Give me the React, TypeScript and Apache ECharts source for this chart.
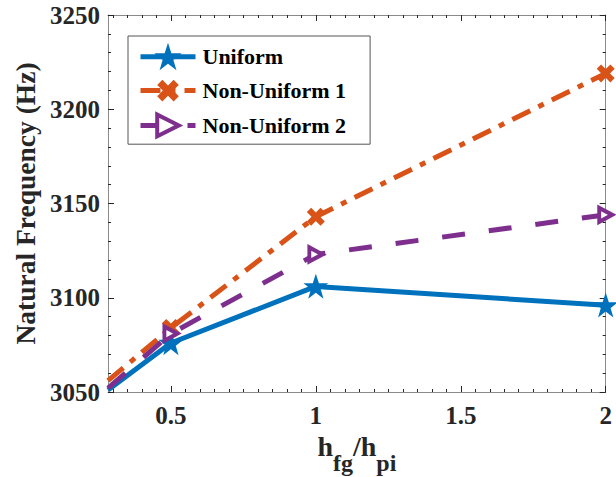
import React, { useEffect, useRef } from 'react';
import * as echarts from 'echarts';

const X_MIN = 0.283;
const X_MAX = 2;
const Y_MIN = 3050;
const Y_MAX = 3250;
const Y_STEP = 50;

const xValues = [X_MIN, 0.5, 1, 2];
const uniform = [3051, 3076, 3106, 3096];
const nonUniform1 = [3056, 3084, 3143, 3219];
const nonUniform2 = [3052, 3081, 3123, 3144];
const seriesNames = ['Uniform', 'Non-Uniform 1', 'Non-Uniform 2'];
const xTickLabels = [0.5, 1, 1.5, 2];

const xMinorTicks: number[] = [];
for (let i = 6; i <= 40; i++) xMinorTicks.push(Math.round(i * 5) / 100);

const FONT = '"Liberation Serif", "Times New Roman", serif';
const BLUE = '#0072BD';
const ORANGE = '#D95319';
const PURPLE = '#7E2F8E';
const AXIS_LINE = '#8a8a8a';
const TICK = '#262626';

const STAR = 'path://M50,0 L61.8,35.1 L98.1,35.1 L68.8,56.7 L79.4,90.9 L50,69.1 L20.6,90.9 L31.2,56.7 L1.9,35.1 L38.2,35.1 Z';
const XMARK = 'path://M0,24 L24,0 L50,26 L76,0 L100,24 L74,50 L100,76 L76,100 L50,74 L24,100 L0,76 L26,50 Z';
const TRI = 'path://M0,0 L100,50 L0,100 Z';

function buildData(values: number[]) {
  return values.map((v, i) =>
    i === 0 ? { value: [xValues[i], v], symbol: 'none' } : { value: [xValues[i], v] }
  );
}

export default function App() {
  const ref = useRef<HTMLDivElement>(null);
  useEffect(() => {
    if (!ref.current) return;
    const chart = echarts.init(ref.current, undefined, { renderer: 'svg' });
    const xCommon = {
      type: 'value',
      min: X_MIN,
      max: X_MAX,
      splitLine: { show: false },
    };
    const yCommon = {
      type: 'value',
      min: Y_MIN,
      max: Y_MAX,
      interval: Y_STEP,
      splitLine: { show: false },
    };
    chart.setOption({
      animation: false,
      backgroundColor: '#ffffff',
      grid: {
        left: 108,
        right: 10.3,
        top: 15,
        bottom: 85,
        containLabel: false,
        outerBoundsMode: 'none',
      },
      legend: {
        orient: 'vertical',
        left: 128,
        top: 36,
        data: seriesNames,
        itemWidth: 55,
        itemHeight: 27,
        itemGap: 11,
        padding: [9, 24, 6, 10],
        backgroundColor: '#ffffff',
        borderColor: '#555555',
        borderWidth: 1,
        borderRadius: 0,
        lineStyle: { width: 5 },
        itemStyle: { borderWidth: 'inherit' },
        textStyle: {
          fontFamily: FONT,
          fontWeight: 'bold',
          fontSize: 22,
          color: '#000000',
          padding: [0, 0, 0, 2],
        },
      },
      xAxis: [
        {
          ...xCommon,
          position: 'bottom',
          axisLine: { show: true, onZero: false, lineStyle: { color: AXIS_LINE, width: 1 } },
          axisTick: { show: true, inside: true, length: 6, customValues: xTickLabels, lineStyle: { color: TICK } },
          axisLabel: {
            show: true,
            customValues: xTickLabels,
            margin: 11,
            fontFamily: FONT,
            fontWeight: 'bold',
            fontSize: 25,
            color: TICK,
          },
          name: '{m|h}{s|fg}{m|/h}{s|pi}',
          nameLocation: 'middle',
          nameGap: 26,
          nameTextStyle: {
            rich: {
              m: { fontFamily: FONT, fontWeight: 'bold', fontSize: 28, color: TICK },
              s: { fontFamily: FONT, fontWeight: 'bold', fontSize: 24, padding: [32, 0, 0, 0], color: TICK },
            },
          },
        },
        {
          ...xCommon,
          position: 'bottom',
          axisLine: { show: false, onZero: false },
          axisTick: { show: true, inside: true, length: 3, customValues: xMinorTicks, lineStyle: { color: TICK } },
          axisLabel: { show: false },
        },
        {
          ...xCommon,
          position: 'top',
          axisLine: { show: true, onZero: false, lineStyle: { color: AXIS_LINE, width: 1 } },
          axisTick: { show: true, inside: true, length: 6, customValues: xTickLabels, lineStyle: { color: TICK } },
          axisLabel: { show: false },
        },
        {
          ...xCommon,
          position: 'top',
          axisLine: { show: false, onZero: false },
          axisTick: { show: true, inside: true, length: 3, customValues: xMinorTicks, lineStyle: { color: TICK } },
          axisLabel: { show: false },
        },
      ],
      yAxis: [
        {
          ...yCommon,
          position: 'left',
          axisLine: { show: true, onZero: false, lineStyle: { color: AXIS_LINE, width: 1 } },
          axisTick: { show: true, inside: true, length: 6, lineStyle: { color: TICK } },
          minorTick: { show: true, splitNumber: 5, length: 3, lineStyle: { color: TICK } },
          axisLabel: {
            margin: 8,
            fontFamily: FONT,
            fontWeight: 'bold',
            fontSize: 25,
            color: TICK,
            formatter: (v: number) => String(v),
          },
          name: 'Natural Frequency (Hz)',
          nameLocation: 'middle',
          nameRotate: 90,
          nameGap: 64,
          nameTextStyle: {
            fontFamily: FONT,
            fontWeight: 'bold',
            fontSize: 27.5,
            color: TICK,
          },
        },
        {
          ...yCommon,
          position: 'right',
          axisLine: { show: true, onZero: false, lineStyle: { color: AXIS_LINE, width: 1 } },
          axisTick: { show: true, inside: true, length: 6, lineStyle: { color: TICK } },
          minorTick: { show: true, splitNumber: 5, length: 3, lineStyle: { color: TICK } },
          axisLabel: { show: false },
        },
      ],
      series: [
        {
          name: seriesNames[0],
          type: 'line',
          xAxisIndex: 0,
          yAxisIndex: 0,
          data: buildData(uniform),
          symbol: STAR,
          symbolSize: 19,
          showAllSymbol: true,
          lineStyle: { color: BLUE, width: 5, type: 'solid' },
          itemStyle: { color: BLUE, borderColor: BLUE, borderWidth: 2 },
          z: 2,
        },
        {
          name: seriesNames[1],
          type: 'line',
          xAxisIndex: 0,
          yAxisIndex: 0,
          data: buildData(nonUniform1),
          symbol: XMARK,
          symbolSize: 18,
          showAllSymbol: true,
          lineStyle: { color: ORANGE, width: 5, type: [20, 9, 6, 9] },
          itemStyle: { color: ORANGE, borderWidth: 0 },
          z: 3,
        },
        {
          name: seriesNames[2],
          type: 'line',
          xAxisIndex: 0,
          yAxisIndex: 0,
          data: buildData(nonUniform2),
          symbol: TRI,
          symbolSize: [13, 14],
          showAllSymbol: true,
          lineStyle: { color: PURPLE, width: 5, type: [23, 24] },
          itemStyle: { color: '#ffffff', borderColor: PURPLE, borderWidth: 4 },
          z: 4,
        },
      ],
    });
    return () => chart.dispose();
  }, []);
  return <div ref={ref} style={{ position: 'absolute', left: 0, top: 0, width: 616, height: 477 }} />;
}
